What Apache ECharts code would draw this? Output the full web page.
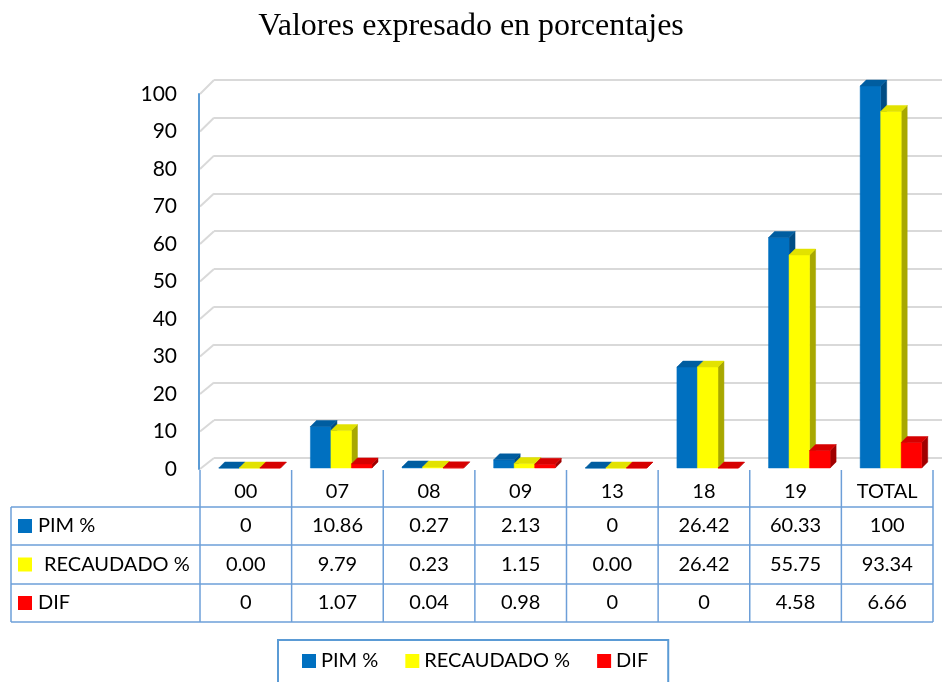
<!DOCTYPE html>
<html><head><meta charset="utf-8">
<script src="https://cdn.jsdelivr.net/npm/echarts@6/dist/echarts.min.js"></script>
<style>html,body{margin:0;padding:0;background:#fff}#c{width:942px;height:682px}</style>
</head><body><div id="c"></div>
<script>
const categories = ['00','07','08','09','13','18','19','TOTAL'];
const seriesNames = ['PIM %','RECAUDADO %','DIF'];
const pim = [0,10.86,0.27,2.13,0,26.42,60.33,100];
const recaudado = [0,9.79,0.23,1.15,0,26.42,55.75,93.34];
const dif = [0,1.07,0.04,0.98,0,0,4.58,6.66];
const yTicks = [0,10,20,30,40,50,60,70,80,90,100];
const pimLabels = pim.map(String);
const recLabels = recaudado.map(v => v.toFixed(2));
const difLabels = dif.map(String);

const FONT = 'Lato';
const palette = [
  {front:'#0070C0', side:'#004C84', top:'#005DA0'},
  {front:'#FFFF00', side:'#A8A800', top:'#E2E200'},
  {front:'#FF0000', side:'#A00000', top:'#D60000'}
];
const offs = [-0.295, -0.071, 0.153];

function make3D(k){
  return function(params, api){
    const i = api.value(0), v = api.value(1);
    const base = api.coord([i, 0]);
    const tp = api.coord([i, v]);
    const bw = api.size([1, 0])[0];
    const w = bw * 0.224;
    const x0 = base[0] + bw * offs[k];
    const x1 = x0 + w;
    const yb = base[1], yt = tp[1];
    const d = 6;
    const c = palette[k];
    return {type:'group', children:[
      {type:'polygon', shape:{points:[[x1,yb],[x1+d,yb-d],[x1+d,yt-d],[x1,yt]]}, style:{fill:c.side, stroke:c.side, lineWidth:0.5}},
      {type:'rect', shape:{x:x0, y:yt, width:w, height:yb-yt}, style:{fill:c.front, stroke:c.front, lineWidth:0.5}},
      {type:'polygon', shape:{points:[[x0,yt],[x1,yt],[x1+d,yt-d],[x0+d,yt-d]]}, style:{fill:c.top, stroke:c.top, lineWidth:0.5}}
    ]};
  };
}

const chart = echarts.init(document.getElementById('c'));
const seriesData = [pim, recaudado, dif];
chart.setOption({
  animation:false,
  backgroundColor:'#fff',
  title:{text:'Valores expresado en porcentajes', left:'center', top:6,
    textStyle:{fontFamily:'Liberation Serif', fontSize:32, fontWeight:'normal', color:'#000'}},
  legend:{data:seriesNames, left:278, top:640, icon:'rect', itemWidth:14, itemHeight:14, itemGap:27,
    padding:[11,20,30,24], borderColor:'#5B9BD5', borderWidth:2,
    textStyle:{fontFamily:FONT, fontSize:20, color:'#000'}},
  grid:[
    {left:199, right:9, top:94, bottom:213},
    {left:214, right:0, top:80, bottom:224},
    {left:200, right:9, top:86, bottom:214}
  ],
  xAxis:[
    {gridIndex:0, type:'category', data:categories, show:false},
    {gridIndex:1, type:'value', min:0, max:1, show:false},
    {gridIndex:2, type:'category', data:categories, show:false}
  ],
  yAxis:[
    {gridIndex:0, type:'value', min:0, max:100, interval:10,
      axisLine:{show:true, lineStyle:{color:'#5B9BD5', width:2}}, axisTick:{show:false}, splitLine:{show:false},
      axisLabel:{margin:22, fontFamily:FONT, fontSize:21, color:'#000'}},
    {gridIndex:1, type:'value', min:0, max:100, interval:10,
      axisLine:{show:false}, axisTick:{show:false}, axisLabel:{show:false},
      splitLine:{show:true, lineStyle:{color:'#D9D9D9', width:2}}},
    {gridIndex:2, type:'value', min:0, max:100, show:false}
  ],
  series: seriesNames.map((n, k) => ({
    name:n, type:'custom', xAxisIndex:2, yAxisIndex:2,
    itemStyle:{color:palette[k].front},
    renderItem: make3D(k),
    data: seriesData[k].map((v, i) => [i, v])
  }))
});

// table and wall diagonals
const g = [];
const lineC = '#6D9FD8';
yTicks.forEach(v => {
  const yf = chart.convertToPixel({yAxisIndex:0}, v);
  const yb = chart.convertToPixel({yAxisIndex:1}, v);
  g.push({type:'line', z:0, shape:{x1:200, y1:yf, x2:214, y2:yb}, style:{stroke:'#D9D9D9', lineWidth:2}});
});
const centers = categories.map((c, i) => chart.convertToPixel({xAxisIndex:2}, i));
const bw = centers[1] - centers[0];
const xL = 11, xT = centers[0] - bw/2, xR = centers[centers.length-1] + bw/2;
const rowsY = [470, 507, 545, 584, 622];
for (let r = 1; r < rowsY.length; r++) {
  g.push({type:'line', shape:{x1:xL, y1:rowsY[r], x2:xR, y2:rowsY[r]}, style:{stroke:lineC, lineWidth:1.5}});
}
for (let c = 0; c <= categories.length; c++) {
  const x = xT + c*bw;
  g.push({type:'line', shape:{x1:x, y1:rowsY[0], x2:x, y2:rowsY[4]}, style:{stroke:lineC, lineWidth:1.5}});
}
g.push({type:'line', shape:{x1:xL, y1:rowsY[1], x2:xL, y2:rowsY[4]}, style:{stroke:lineC, lineWidth:1.5}});
function txt(s, x, y, align){
  return {type:'text', style:{text:s, x:x, y:y, textAlign:align||'center', textVerticalAlign:'middle',
    font:'20px ' + FONT, fill:'#000'}};
}
categories.forEach((c, i) => g.push(txt(c, centers[i], (rowsY[0]+rowsY[1])/2 + 3)));
const rowLabels = [pimLabels, recLabels, difLabels];
rowLabels.forEach((arr, r) => {
  const yc = (rowsY[r+1] + rowsY[r+2]) / 2;
  arr.forEach((s, i) => g.push(txt(s, centers[i], yc)));
  g.push({type:'rect', shape:{x:18, y:yc-7, width:14, height:14}, style:{fill:palette[r].front}});
  g.push(txt(seriesNames[r], r === 1 ? 44 : 38, yc, 'left'));
});
chart.setOption({graphic:{elements:g}});
</script>
</body></html>
